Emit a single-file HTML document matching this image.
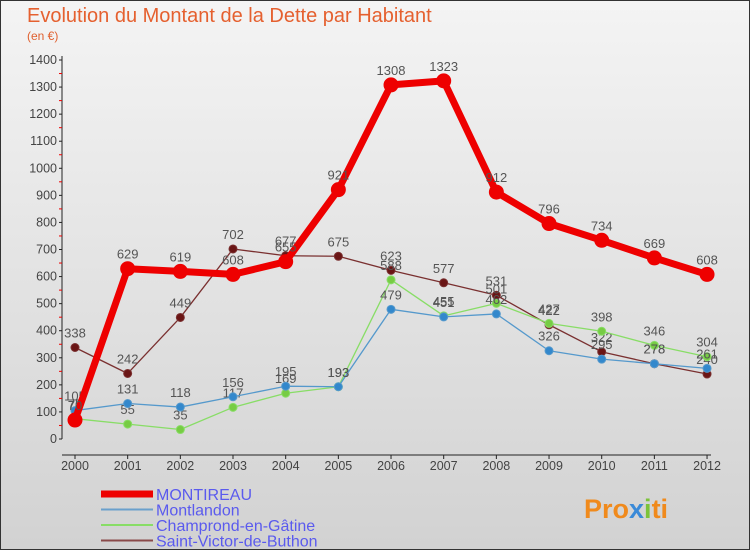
<!DOCTYPE html>
<html><head><meta charset="utf-8"><style>
body{margin:0;width:750px;height:550px;overflow:hidden;font-family:"Liberation Sans",sans-serif}
#wrap{position:relative;width:748px;height:548px;border:1px solid #333;background:linear-gradient(#f4f4f4,#d2d2d2)}
</style></head><body>
<div id="wrap">
<svg id="chart" width="748" height="548">
<text x="26" y="21" font-size="20" fill="#e5602f" font-weight="300">Evolution du Montant de la Dette par Habitant</text>
<text x="26" y="39" font-size="12" fill="#e0602f">(en €)</text>
<g id="axes"></g><g id="series"></g><g id="legend"></g>
<text x="583" y="517" font-size="27" font-weight="bold" fill="#f08a1c">Pro<tspan fill="#3a8ad8">x</tspan><tspan fill="#7cc33a">i</tspan>ti</text>
</svg></div>
<script>
const years=[2000,2001,2002,2003,2004,2005,2006,2007,2008,2009,2010,2011,2012];
const yTicks=[0,100,200,300,400,500,600,700,800,900,1000,1100,1200,1300,1400];
const montireau=[70,629,619,608,655,921,1308,1323,912,796,734,669,608];
const montlandon=[105,131,118,156,195,193,479,451,462,326,295,278,261];
const champrond=[75,55,35,117,169,193,588,455,501,427,398,346,304];
const saintVictor=[338,242,449,702,677,675,623,577,531,422,322,278,240];
const NS="http://www.w3.org/2000/svg";
const X=i=>74+i*52.67, Y=v=>438-v*379/1400;
function mk(t,a,p){const e=document.createElementNS(NS,t);for(const k in a)e.setAttribute(k,a[k]);p.appendChild(e);return e;}
const ax=document.getElementById('axes');
let l=mk('line',{x1:61,y1:55,x2:61,y2:438,stroke:'#222'},ax);

l=mk('line',{x1:61,y1:454,x2:710,y2:454,stroke:'#222'},ax);

yTicks.forEach(v=>{mk('line',{x1:58,y1:Y(v),x2:61,y2:Y(v),stroke:'#222'},ax);
 if(v<1400)mk('line',{x1:58,y1:Y(v+50),x2:61,y2:Y(v+50),stroke:'#e00'},ax);
 const t=mk('text',{x:56,y:Y(v)+4,'font-size':12.5,fill:'#444','text-anchor':'end'},ax);t.textContent=v;
 });
years.forEach((y,i)=>{mk('line',{x1:X(i),y1:454,x2:X(i),y2:458,stroke:'#222'},ax);
 const t=mk('text',{x:X(i),y:469,'font-size':12.5,fill:'#444','text-anchor':'middle'},ax);t.textContent=y;
 });
const sg=document.getElementById('series');
function draw(name,vals,col,w,r,dot){
 const g=mk('g',{},sg);
 const p=mk('polyline',{points:vals.map((v,i)=>X(i)+','+Y(v)).join(' '),fill:'none',stroke:col,'stroke-width':w,'stroke-linejoin':'round'},g);
 
 vals.forEach((v,i)=>{const c=mk('circle',{cx:X(i),cy:Y(v),r:r,fill:dot,stroke:col,'stroke-width':1},g);
  
  const t=mk('text',{x:X(i),y:Y(v)-10,'font-size':13,fill:'#555','text-anchor':'middle'},g);t.textContent=v;
  });
}
draw('saint-victor',saintVictor,'#7a3030',1.3,4,'#6a1515');
draw('champrond',champrond,'#88dd66',1.3,4,'#77cc44');
draw('montlandon',montlandon,'#5599cc',1.3,4,'#3388cc');
draw('montireau',montireau,'#ee0000',7,7,'#ee0000');
const lg=document.getElementById('legend');
[['MONTIREAU','#ee0000',7],['Montlandon','#6aa0cc',2],['Champrond-en-Gâtine','#88dd66',2],['Saint-Victor-de-Buthon','#8a4a4a',2]].forEach((e,i)=>{
 const y=493+i*15.5;
 const li=mk('line',{x1:100,y1:y,x2:152,y2:y,stroke:e[1],'stroke-width':e[2]},lg);
 
 const t=mk('text',{x:155,y:y+6,'font-size':16,fill:'#5a5aee'},lg);t.textContent=e[0];
 });
</script>
</body></html>
